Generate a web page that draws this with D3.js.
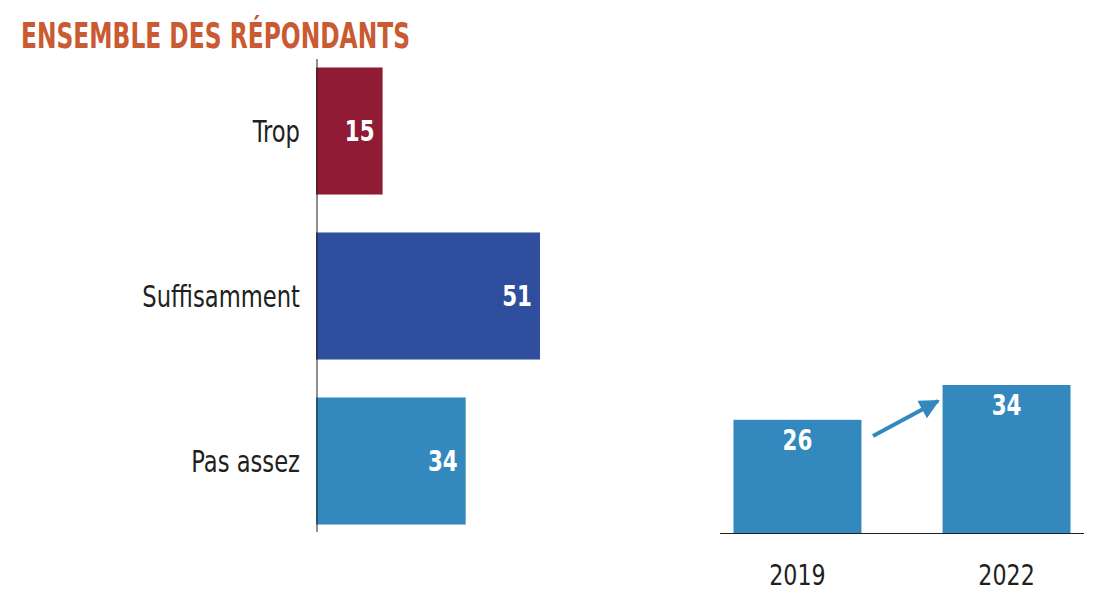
<!DOCTYPE html>
<html>
<head>
<meta charset="utf-8">
<script src="https://cdn.jsdelivr.net/npm/d3@7.9.0/dist/d3.min.js"></script>
<style>
  body { margin: 0; background: #fff; }
  text { font-family: "Liberation Sans Narrow", "DejaVu Sans Condensed", sans-serif; }
</style>
</head>
<body>
<svg id="chart" width="1108" height="600"></svg>
<script>
// data
const categories = ['Trop', 'Suffisamment', 'Pas assez'];
const shares = [15, 51, 34];
const catColors = ['#8f1b35', '#2f4e9e', '#3389be'];
const years = ['2019', '2022'];
const pasAssez = [26, 34];

const svg = d3.select('#chart');

// squeeze text horizontally, the original uses a condensed face
function narrow(sel, fx, fy, sx) {
    return sel.attr('transform', (d, i) => `translate(${fx(d, i)},${fy(d, i)}) scale(${sx},1)`);
}

svg.append('text')
    .attr('x', 21).attr('y', 48)
    .attr('fill', '#c95a31')
    .attr('font-size', 36).attr('font-weight', 'bold')
    .attr('textLength', 389).attr('lengthAdjust', 'spacingAndGlyphs')
    .text('ENSEMBLE DES RÉPONDANTS');

// left horizontal bars
const x = d3.scaleLinear().domain([0, 51]).range([317, 540]);
const y = d3.scaleBand().domain(categories).range([48.5, 543.5])
    .paddingInner(0.23).paddingOuter(0.115);

const left = svg.append('g');
left.selectAll('rect').data(categories).enter().append('rect')
    .attr('x', x(0) - 1)
    .attr('y', d => y(d))
    .attr('width', (d, i) => x(shares[i]) - x(0) + 1)
    .attr('height', y.bandwidth())
    .attr('fill', (d, i) => catColors[i]);

narrow(left.selectAll('.val').data(categories).enter().append('text'),
        (d, i) => x(shares[i]) - 8, d => y(d) + y.bandwidth() / 2 + 10, 0.85)
    .attr('text-anchor', 'end')
    .attr('fill', '#fff').attr('font-size', 28).attr('font-weight', 'bold')
    .text((d, i) => shares[i]);

narrow(left.selectAll('.lab').data(categories).enter().append('text'),
        () => 300, d => y(d) + y.bandwidth() / 2 + 11, 0.84)
    .attr('text-anchor', 'end')
    .attr('fill', '#231f20').attr('font-size', 30)
    .text(d => d);

left.append('line')
    .attr('x1', 317).attr('x2', 317).attr('y1', 59).attr('y2', 532)
    .attr('stroke', '#231f20').attr('stroke-width', 1);

// right vertical bars
const xb = d3.scaleBand().domain(years).range([713, 1091]).paddingInner(0.388).paddingOuter(0.098);
const yb = d3.scaleLinear().domain([0, 34]).range([533, 385]);

const right = svg.append('g');
right.selectAll('rect').data(years).enter().append('rect')
    .attr('x', d => xb(d))
    .attr('y', (d, i) => yb(pasAssez[i]))
    .attr('width', xb.bandwidth())
    .attr('height', (d, i) => yb(0) - yb(pasAssez[i]))
    .attr('fill', '#3389be');

narrow(right.selectAll('.val').data(years).enter().append('text'),
        d => xb(d) + xb.bandwidth() / 2, (d, i) => yb(pasAssez[i]) + 30, 0.85)
    .attr('text-anchor', 'middle')
    .attr('fill', '#fff').attr('font-size', 28).attr('font-weight', 'bold')
    .text((d, i) => pasAssez[i]);

right.append('line')
    .attr('x1', 720).attr('x2', 1084).attr('y1', 533.5).attr('y2', 533.5)
    .attr('stroke', '#231f20').attr('stroke-width', 1);

narrow(right.selectAll('.yr').data(years).enter().append('text'),
        d => xb(d) + xb.bandwidth() / 2, () => 585, 0.88)
    .attr('text-anchor', 'middle')
    .attr('fill', '#231f20').attr('font-size', 28)
    .text(d => d);

// arrow
svg.append('defs').append('marker')
    .attr('id', 'head').attr('viewBox', '0 0 10 10')
    .attr('refX', 9).attr('refY', 5)
    .attr('markerWidth', 5.5).attr('markerHeight', 5)
    .attr('orient', 'auto')
    .append('path').attr('d', 'M0,0 L10,5 L0,10 Z').attr('fill', '#3389be');

right.append('line')
    .attr('x1', 873).attr('y1', 436).attr('x2', 938).attr('y2', 401)
    .attr('stroke', '#3389be').attr('stroke-width', 4)
    .attr('marker-end', 'url(#head)');
</script>
</body>
</html>
